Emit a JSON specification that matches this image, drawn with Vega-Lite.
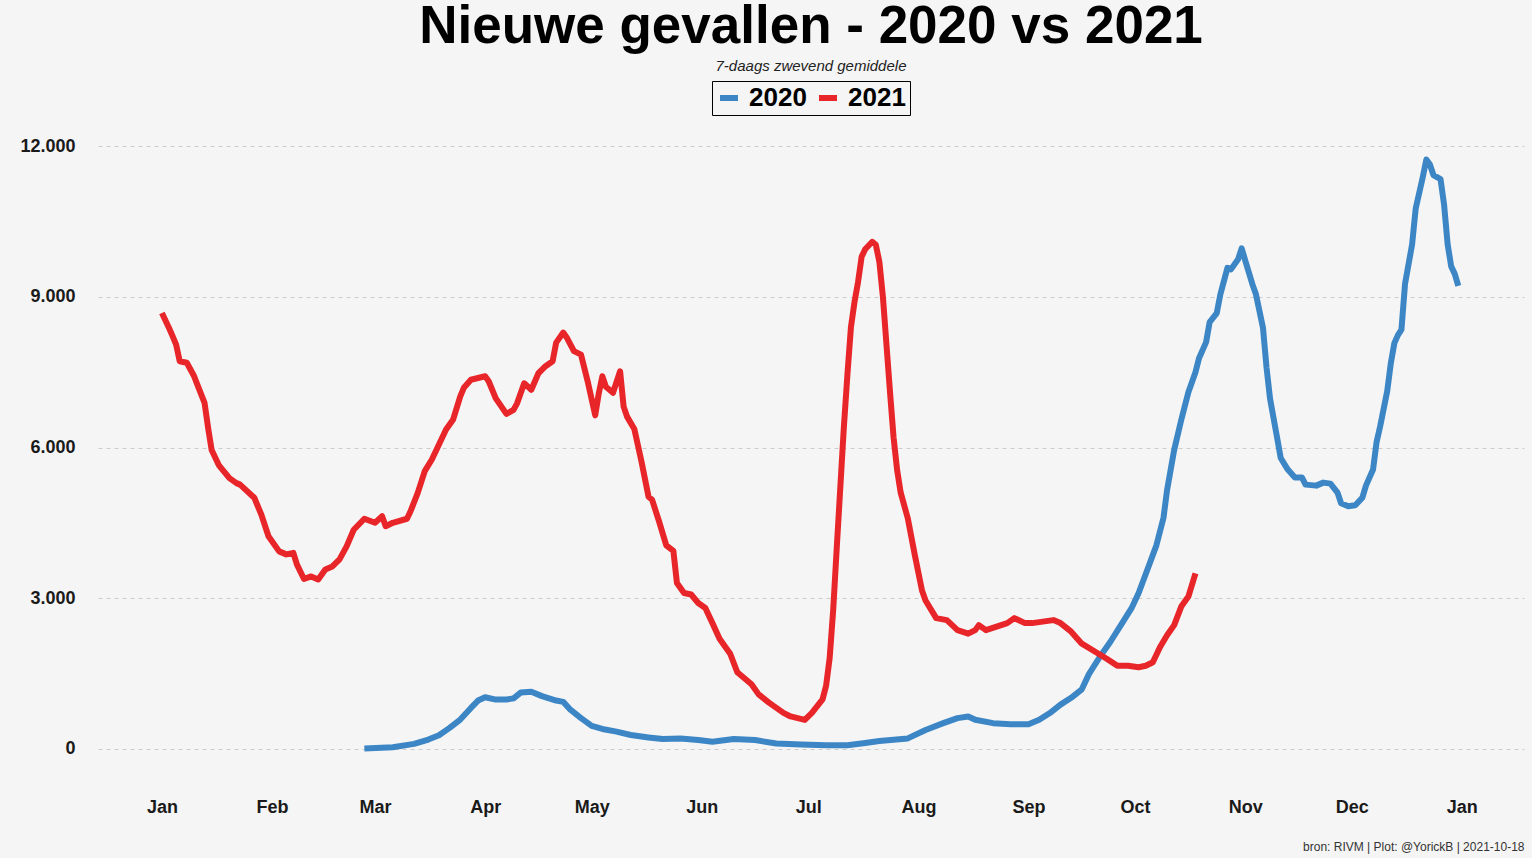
{
  "$schema": "https://vega.github.io/schema/vega-lite/v6.json",
  "autosize": {"type": "none"},
  "width": 1426,
  "height": 648,
  "padding": {"left": 98, "top": 130, "right": 8, "bottom": 80},
  "background": "#f5f5f5",
  "config": {
    "view": {"stroke": null},
    "font": "Liberation Sans",
    "legend": {"layout": {"top": {"anchor": "middle"}}}
  },
  "title": {
    "text": "Nieuwe gevallen - 2020 vs 2021",
    "subtitle": "7-daags zwevend gemiddele",
    "frame": "group",
    "anchor": "middle",
    "font": "Liberation Sans",
    "fontSize": 53,
    "fontWeight": "bold",
    "color": "#000000",
    "subtitleFont": "Liberation Sans",
    "subtitleFontSize": 15,
    "subtitleFontStyle": "italic",
    "subtitleColor": "#222222",
    "subtitlePadding": 5,
    "offset": 7
  },
  "data": {
    "format": {"parse": {"datum": "date"}},
    "values": [
      {"jaar": "2020", "datum": "2020-02-27", "gevallen": 0},
      {"jaar": "2020", "datum": "2020-03-06", "gevallen": 27},
      {"jaar": "2020", "datum": "2020-03-12", "gevallen": 93},
      {"jaar": "2020", "datum": "2020-03-16", "gevallen": 180},
      {"jaar": "2020", "datum": "2020-03-19", "gevallen": 266},
      {"jaar": "2020", "datum": "2020-03-22", "gevallen": 412},
      {"jaar": "2020", "datum": "2020-03-25", "gevallen": 578},
      {"jaar": "2020", "datum": "2020-03-28", "gevallen": 810},
      {"jaar": "2020", "datum": "2020-03-30", "gevallen": 956},
      {"jaar": "2020", "datum": "2020-04-01", "gevallen": 1023},
      {"jaar": "2020", "datum": "2020-04-04", "gevallen": 976},
      {"jaar": "2020", "datum": "2020-04-07", "gevallen": 976},
      {"jaar": "2020", "datum": "2020-04-09", "gevallen": 1000},
      {"jaar": "2020", "datum": "2020-04-11", "gevallen": 1115},
      {"jaar": "2020", "datum": "2020-04-14", "gevallen": 1133},
      {"jaar": "2020", "datum": "2020-04-17", "gevallen": 1045},
      {"jaar": "2020", "datum": "2020-04-21", "gevallen": 957},
      {"jaar": "2020", "datum": "2020-04-23", "gevallen": 930},
      {"jaar": "2020", "datum": "2020-04-25", "gevallen": 775},
      {"jaar": "2020", "datum": "2020-04-28", "gevallen": 607},
      {"jaar": "2020", "datum": "2020-05-01", "gevallen": 452},
      {"jaar": "2020", "datum": "2020-05-04", "gevallen": 391},
      {"jaar": "2020", "datum": "2020-05-08", "gevallen": 337},
      {"jaar": "2020", "datum": "2020-05-12", "gevallen": 270},
      {"jaar": "2020", "datum": "2020-05-17", "gevallen": 222},
      {"jaar": "2020", "datum": "2020-05-21", "gevallen": 189},
      {"jaar": "2020", "datum": "2020-05-26", "gevallen": 202},
      {"jaar": "2020", "datum": "2020-05-31", "gevallen": 169},
      {"jaar": "2020", "datum": "2020-06-04", "gevallen": 135},
      {"jaar": "2020", "datum": "2020-06-10", "gevallen": 189},
      {"jaar": "2020", "datum": "2020-06-16", "gevallen": 169},
      {"jaar": "2020", "datum": "2020-06-22", "gevallen": 101},
      {"jaar": "2020", "datum": "2020-06-29", "gevallen": 81},
      {"jaar": "2020", "datum": "2020-07-06", "gevallen": 67},
      {"jaar": "2020", "datum": "2020-07-12", "gevallen": 67},
      {"jaar": "2020", "datum": "2020-07-17", "gevallen": 110},
      {"jaar": "2020", "datum": "2020-07-21", "gevallen": 150},
      {"jaar": "2020", "datum": "2020-07-29", "gevallen": 202},
      {"jaar": "2020", "datum": "2020-08-03", "gevallen": 371},
      {"jaar": "2020", "datum": "2020-08-08", "gevallen": 506},
      {"jaar": "2020", "datum": "2020-08-12", "gevallen": 607},
      {"jaar": "2020", "datum": "2020-08-15", "gevallen": 640},
      {"jaar": "2020", "datum": "2020-08-17", "gevallen": 573},
      {"jaar": "2020", "datum": "2020-08-22", "gevallen": 506},
      {"jaar": "2020", "datum": "2020-08-27", "gevallen": 485},
      {"jaar": "2020", "datum": "2020-09-01", "gevallen": 485},
      {"jaar": "2020", "datum": "2020-09-04", "gevallen": 573},
      {"jaar": "2020", "datum": "2020-09-07", "gevallen": 708},
      {"jaar": "2020", "datum": "2020-09-10", "gevallen": 876},
      {"jaar": "2020", "datum": "2020-09-13", "gevallen": 1011},
      {"jaar": "2020", "datum": "2020-09-16", "gevallen": 1180},
      {"jaar": "2020", "datum": "2020-09-18", "gevallen": 1483},
      {"jaar": "2020", "datum": "2020-09-21", "gevallen": 1820},
      {"jaar": "2020", "datum": "2020-09-24", "gevallen": 2124},
      {"jaar": "2020", "datum": "2020-09-27", "gevallen": 2461},
      {"jaar": "2020", "datum": "2020-09-30", "gevallen": 2798},
      {"jaar": "2020", "datum": "2020-10-02", "gevallen": 3100},
      {"jaar": "2020", "datum": "2020-10-04", "gevallen": 3480},
      {"jaar": "2020", "datum": "2020-10-07", "gevallen": 4050},
      {"jaar": "2020", "datum": "2020-10-09", "gevallen": 4600},
      {"jaar": "2020", "datum": "2020-10-10", "gevallen": 5150},
      {"jaar": "2020", "datum": "2020-10-12", "gevallen": 5950},
      {"jaar": "2020", "datum": "2020-10-14", "gevallen": 6550},
      {"jaar": "2020", "datum": "2020-10-16", "gevallen": 7100},
      {"jaar": "2020", "datum": "2020-10-18", "gevallen": 7500},
      {"jaar": "2020", "datum": "2020-10-19", "gevallen": 7780},
      {"jaar": "2020", "datum": "2020-10-21", "gevallen": 8100},
      {"jaar": "2020", "datum": "2020-10-22", "gevallen": 8500},
      {"jaar": "2020", "datum": "2020-10-24", "gevallen": 8680},
      {"jaar": "2020", "datum": "2020-10-25", "gevallen": 9050},
      {"jaar": "2020", "datum": "2020-10-27", "gevallen": 9580},
      {"jaar": "2020", "datum": "2020-10-28", "gevallen": 9550},
      {"jaar": "2020", "datum": "2020-10-30", "gevallen": 9750},
      {"jaar": "2020", "datum": "2020-10-31", "gevallen": 9970},
      {"jaar": "2020", "datum": "2020-11-01", "gevallen": 9730},
      {"jaar": "2020", "datum": "2020-11-03", "gevallen": 9260},
      {"jaar": "2020", "datum": "2020-11-04", "gevallen": 9060},
      {"jaar": "2020", "datum": "2020-11-06", "gevallen": 8390},
      {"jaar": "2020", "datum": "2020-11-07", "gevallen": 7600},
      {"jaar": "2020", "datum": "2020-11-08", "gevallen": 6970},
      {"jaar": "2020", "datum": "2020-11-10", "gevallen": 6190},
      {"jaar": "2020", "datum": "2020-11-11", "gevallen": 5790},
      {"jaar": "2020", "datum": "2020-11-13", "gevallen": 5560},
      {"jaar": "2020", "datum": "2020-11-15", "gevallen": 5400},
      {"jaar": "2020", "datum": "2020-11-17", "gevallen": 5400},
      {"jaar": "2020", "datum": "2020-11-18", "gevallen": 5260},
      {"jaar": "2020", "datum": "2020-11-21", "gevallen": 5240},
      {"jaar": "2020", "datum": "2020-11-23", "gevallen": 5300},
      {"jaar": "2020", "datum": "2020-11-25", "gevallen": 5280},
      {"jaar": "2020", "datum": "2020-11-27", "gevallen": 5100},
      {"jaar": "2020", "datum": "2020-11-28", "gevallen": 4890},
      {"jaar": "2020", "datum": "2020-11-30", "gevallen": 4830},
      {"jaar": "2020", "datum": "2020-12-02", "gevallen": 4850},
      {"jaar": "2020", "datum": "2020-12-04", "gevallen": 5000},
      {"jaar": "2020", "datum": "2020-12-05", "gevallen": 5240},
      {"jaar": "2020", "datum": "2020-12-07", "gevallen": 5560},
      {"jaar": "2020", "datum": "2020-12-08", "gevallen": 6110},
      {"jaar": "2020", "datum": "2020-12-09", "gevallen": 6420},
      {"jaar": "2020", "datum": "2020-12-11", "gevallen": 7130},
      {"jaar": "2020", "datum": "2020-12-12", "gevallen": 7680},
      {"jaar": "2020", "datum": "2020-12-13", "gevallen": 8080},
      {"jaar": "2020", "datum": "2020-12-14", "gevallen": 8240},
      {"jaar": "2020", "datum": "2020-12-15", "gevallen": 8350},
      {"jaar": "2020", "datum": "2020-12-16", "gevallen": 9260},
      {"jaar": "2020", "datum": "2020-12-18", "gevallen": 10050},
      {"jaar": "2020", "datum": "2020-12-19", "gevallen": 10760},
      {"jaar": "2020", "datum": "2020-12-21", "gevallen": 11390},
      {"jaar": "2020", "datum": "2020-12-22", "gevallen": 11740},
      {"jaar": "2020", "datum": "2020-12-23", "gevallen": 11640},
      {"jaar": "2020", "datum": "2020-12-24", "gevallen": 11430},
      {"jaar": "2020", "datum": "2020-12-26", "gevallen": 11350},
      {"jaar": "2020", "datum": "2020-12-27", "gevallen": 10840},
      {"jaar": "2020", "datum": "2020-12-28", "gevallen": 10050},
      {"jaar": "2020", "datum": "2020-12-29", "gevallen": 9610},
      {"jaar": "2020", "datum": "2020-12-30", "gevallen": 9460},
      {"jaar": "2020", "datum": "2020-12-31", "gevallen": 9220},
      {"jaar": "2021", "datum": "2021-01-01", "gevallen": 8680},
      {"jaar": "2021", "datum": "2021-01-03", "gevallen": 8380},
      {"jaar": "2021", "datum": "2021-01-04", "gevallen": 8220},
      {"jaar": "2021", "datum": "2021-01-05", "gevallen": 8050},
      {"jaar": "2021", "datum": "2021-01-06", "gevallen": 7720},
      {"jaar": "2021", "datum": "2021-01-08", "gevallen": 7690},
      {"jaar": "2021", "datum": "2021-01-10", "gevallen": 7430},
      {"jaar": "2021", "datum": "2021-01-11", "gevallen": 7250},
      {"jaar": "2021", "datum": "2021-01-13", "gevallen": 6890},
      {"jaar": "2021", "datum": "2021-01-14", "gevallen": 6390},
      {"jaar": "2021", "datum": "2021-01-15", "gevallen": 5950},
      {"jaar": "2021", "datum": "2021-01-17", "gevallen": 5650},
      {"jaar": "2021", "datum": "2021-01-20", "gevallen": 5390},
      {"jaar": "2021", "datum": "2021-01-22", "gevallen": 5290},
      {"jaar": "2021", "datum": "2021-01-23", "gevallen": 5260},
      {"jaar": "2021", "datum": "2021-01-27", "gevallen": 5000},
      {"jaar": "2021", "datum": "2021-01-29", "gevallen": 4660},
      {"jaar": "2021", "datum": "2021-01-31", "gevallen": 4230},
      {"jaar": "2021", "datum": "2021-02-03", "gevallen": 3930},
      {"jaar": "2021", "datum": "2021-02-05", "gevallen": 3870},
      {"jaar": "2021", "datum": "2021-02-07", "gevallen": 3900},
      {"jaar": "2021", "datum": "2021-02-08", "gevallen": 3670},
      {"jaar": "2021", "datum": "2021-02-10", "gevallen": 3380},
      {"jaar": "2021", "datum": "2021-02-12", "gevallen": 3430},
      {"jaar": "2021", "datum": "2021-02-14", "gevallen": 3370},
      {"jaar": "2021", "datum": "2021-02-16", "gevallen": 3570},
      {"jaar": "2021", "datum": "2021-02-18", "gevallen": 3630},
      {"jaar": "2021", "datum": "2021-02-20", "gevallen": 3770},
      {"jaar": "2021", "datum": "2021-02-22", "gevallen": 4030},
      {"jaar": "2021", "datum": "2021-02-24", "gevallen": 4360},
      {"jaar": "2021", "datum": "2021-02-27", "gevallen": 4580},
      {"jaar": "2021", "datum": "2021-03-01", "gevallen": 4500},
      {"jaar": "2021", "datum": "2021-03-03", "gevallen": 4630},
      {"jaar": "2021", "datum": "2021-03-04", "gevallen": 4430},
      {"jaar": "2021", "datum": "2021-03-06", "gevallen": 4500},
      {"jaar": "2021", "datum": "2021-03-10", "gevallen": 4580},
      {"jaar": "2021", "datum": "2021-03-11", "gevallen": 4730},
      {"jaar": "2021", "datum": "2021-03-13", "gevallen": 5090},
      {"jaar": "2021", "datum": "2021-03-15", "gevallen": 5530},
      {"jaar": "2021", "datum": "2021-03-17", "gevallen": 5760},
      {"jaar": "2021", "datum": "2021-03-19", "gevallen": 6060},
      {"jaar": "2021", "datum": "2021-03-21", "gevallen": 6360},
      {"jaar": "2021", "datum": "2021-03-23", "gevallen": 6560},
      {"jaar": "2021", "datum": "2021-03-25", "gevallen": 7020},
      {"jaar": "2021", "datum": "2021-03-26", "gevallen": 7190},
      {"jaar": "2021", "datum": "2021-03-28", "gevallen": 7350},
      {"jaar": "2021", "datum": "2021-04-01", "gevallen": 7420},
      {"jaar": "2021", "datum": "2021-04-02", "gevallen": 7320},
      {"jaar": "2021", "datum": "2021-04-04", "gevallen": 6980},
      {"jaar": "2021", "datum": "2021-04-07", "gevallen": 6670},
      {"jaar": "2021", "datum": "2021-04-09", "gevallen": 6750},
      {"jaar": "2021", "datum": "2021-04-10", "gevallen": 6880},
      {"jaar": "2021", "datum": "2021-04-12", "gevallen": 7280},
      {"jaar": "2021", "datum": "2021-04-14", "gevallen": 7150},
      {"jaar": "2021", "datum": "2021-04-16", "gevallen": 7480},
      {"jaar": "2021", "datum": "2021-04-18", "gevallen": 7620},
      {"jaar": "2021", "datum": "2021-04-20", "gevallen": 7720},
      {"jaar": "2021", "datum": "2021-04-21", "gevallen": 8090},
      {"jaar": "2021", "datum": "2021-04-23", "gevallen": 8290},
      {"jaar": "2021", "datum": "2021-04-24", "gevallen": 8190},
      {"jaar": "2021", "datum": "2021-04-26", "gevallen": 7920},
      {"jaar": "2021", "datum": "2021-04-28", "gevallen": 7850},
      {"jaar": "2021", "datum": "2021-04-30", "gevallen": 7280},
      {"jaar": "2021", "datum": "2021-05-02", "gevallen": 6640},
      {"jaar": "2021", "datum": "2021-05-03", "gevallen": 7080},
      {"jaar": "2021", "datum": "2021-05-04", "gevallen": 7420},
      {"jaar": "2021", "datum": "2021-05-05", "gevallen": 7210},
      {"jaar": "2021", "datum": "2021-05-07", "gevallen": 7090},
      {"jaar": "2021", "datum": "2021-05-09", "gevallen": 7520},
      {"jaar": "2021", "datum": "2021-05-10", "gevallen": 6810},
      {"jaar": "2021", "datum": "2021-05-11", "gevallen": 6610},
      {"jaar": "2021", "datum": "2021-05-13", "gevallen": 6370},
      {"jaar": "2021", "datum": "2021-05-15", "gevallen": 5730},
      {"jaar": "2021", "datum": "2021-05-17", "gevallen": 5020},
      {"jaar": "2021", "datum": "2021-05-18", "gevallen": 4960},
      {"jaar": "2021", "datum": "2021-05-20", "gevallen": 4520},
      {"jaar": "2021", "datum": "2021-05-22", "gevallen": 4050},
      {"jaar": "2021", "datum": "2021-05-24", "gevallen": 3940},
      {"jaar": "2021", "datum": "2021-05-25", "gevallen": 3300},
      {"jaar": "2021", "datum": "2021-05-27", "gevallen": 3100},
      {"jaar": "2021", "datum": "2021-05-29", "gevallen": 3070},
      {"jaar": "2021", "datum": "2021-05-31", "gevallen": 2900},
      {"jaar": "2021", "datum": "2021-06-02", "gevallen": 2800},
      {"jaar": "2021", "datum": "2021-06-04", "gevallen": 2500},
      {"jaar": "2021", "datum": "2021-06-06", "gevallen": 2190},
      {"jaar": "2021", "datum": "2021-06-09", "gevallen": 1890},
      {"jaar": "2021", "datum": "2021-06-11", "gevallen": 1520},
      {"jaar": "2021", "datum": "2021-06-15", "gevallen": 1280},
      {"jaar": "2021", "datum": "2021-06-17", "gevallen": 1080},
      {"jaar": "2021", "datum": "2021-06-20", "gevallen": 910},
      {"jaar": "2021", "datum": "2021-06-24", "gevallen": 710},
      {"jaar": "2021", "datum": "2021-06-26", "gevallen": 640},
      {"jaar": "2021", "datum": "2021-06-30", "gevallen": 570},
      {"jaar": "2021", "datum": "2021-07-02", "gevallen": 710},
      {"jaar": "2021", "datum": "2021-07-05", "gevallen": 980},
      {"jaar": "2021", "datum": "2021-07-06", "gevallen": 1250},
      {"jaar": "2021", "datum": "2021-07-07", "gevallen": 1800},
      {"jaar": "2021", "datum": "2021-07-08", "gevallen": 2760},
      {"jaar": "2021", "datum": "2021-07-09", "gevallen": 4000},
      {"jaar": "2021", "datum": "2021-07-10", "gevallen": 5200},
      {"jaar": "2021", "datum": "2021-07-11", "gevallen": 6400},
      {"jaar": "2021", "datum": "2021-07-12", "gevallen": 7450},
      {"jaar": "2021", "datum": "2021-07-13", "gevallen": 8400},
      {"jaar": "2021", "datum": "2021-07-14", "gevallen": 8900},
      {"jaar": "2021", "datum": "2021-07-15", "gevallen": 9300},
      {"jaar": "2021", "datum": "2021-07-16", "gevallen": 9800},
      {"jaar": "2021", "datum": "2021-07-17", "gevallen": 9950},
      {"jaar": "2021", "datum": "2021-07-19", "gevallen": 10100},
      {"jaar": "2021", "datum": "2021-07-20", "gevallen": 10040},
      {"jaar": "2021", "datum": "2021-07-21", "gevallen": 9700},
      {"jaar": "2021", "datum": "2021-07-22", "gevallen": 9000},
      {"jaar": "2021", "datum": "2021-07-23", "gevallen": 8050},
      {"jaar": "2021", "datum": "2021-07-24", "gevallen": 7100},
      {"jaar": "2021", "datum": "2021-07-25", "gevallen": 6200},
      {"jaar": "2021", "datum": "2021-07-26", "gevallen": 5550},
      {"jaar": "2021", "datum": "2021-07-27", "gevallen": 5100},
      {"jaar": "2021", "datum": "2021-07-29", "gevallen": 4590},
      {"jaar": "2021", "datum": "2021-07-31", "gevallen": 3850},
      {"jaar": "2021", "datum": "2021-08-02", "gevallen": 3150},
      {"jaar": "2021", "datum": "2021-08-03", "gevallen": 2950},
      {"jaar": "2021", "datum": "2021-08-06", "gevallen": 2600},
      {"jaar": "2021", "datum": "2021-08-09", "gevallen": 2560},
      {"jaar": "2021", "datum": "2021-08-12", "gevallen": 2360},
      {"jaar": "2021", "datum": "2021-08-15", "gevallen": 2290},
      {"jaar": "2021", "datum": "2021-08-17", "gevallen": 2360},
      {"jaar": "2021", "datum": "2021-08-18", "gevallen": 2460},
      {"jaar": "2021", "datum": "2021-08-20", "gevallen": 2360},
      {"jaar": "2021", "datum": "2021-08-23", "gevallen": 2430},
      {"jaar": "2021", "datum": "2021-08-26", "gevallen": 2500},
      {"jaar": "2021", "datum": "2021-08-28", "gevallen": 2600},
      {"jaar": "2021", "datum": "2021-08-31", "gevallen": 2500},
      {"jaar": "2021", "datum": "2021-09-02", "gevallen": 2500},
      {"jaar": "2021", "datum": "2021-09-05", "gevallen": 2530},
      {"jaar": "2021", "datum": "2021-09-08", "gevallen": 2560},
      {"jaar": "2021", "datum": "2021-09-10", "gevallen": 2500},
      {"jaar": "2021", "datum": "2021-09-13", "gevallen": 2330},
      {"jaar": "2021", "datum": "2021-09-16", "gevallen": 2090},
      {"jaar": "2021", "datum": "2021-09-20", "gevallen": 1920},
      {"jaar": "2021", "datum": "2021-09-23", "gevallen": 1790},
      {"jaar": "2021", "datum": "2021-09-26", "gevallen": 1650},
      {"jaar": "2021", "datum": "2021-09-29", "gevallen": 1650},
      {"jaar": "2021", "datum": "2021-10-02", "gevallen": 1620},
      {"jaar": "2021", "datum": "2021-10-04", "gevallen": 1650},
      {"jaar": "2021", "datum": "2021-10-06", "gevallen": 1720},
      {"jaar": "2021", "datum": "2021-10-08", "gevallen": 2020},
      {"jaar": "2021", "datum": "2021-10-10", "gevallen": 2260},
      {"jaar": "2021", "datum": "2021-10-12", "gevallen": 2460},
      {"jaar": "2021", "datum": "2021-10-14", "gevallen": 2830},
      {"jaar": "2021", "datum": "2021-10-16", "gevallen": 3030},
      {"jaar": "2021", "datum": "2021-10-18", "gevallen": 3490}
    ]
  },
  "transform": [
    {"timeUnit": "utcmonthdate", "field": "datum", "as": "dag"}
  ],
  "mark": {"type": "line", "strokeWidth": 6, "strokeJoin": "round", "strokeCap": "butt"},
  "encoding": {
    "x": {
      "field": "dag",
      "type": "temporal",
      "scale": {
        "type": "utc",
        "domain": [
          {"year": 2011, "month": 12, "date": 14, "utc": true},
          {"year": 2013, "month": 1, "date": 18, "hours": 12, "utc": true}
        ]
      },
      "axis": {
        "values": [
          {"year": 2012, "month": 1, "date": 1, "utc": true},
          {"year": 2012, "month": 2, "date": 1, "utc": true},
          {"year": 2012, "month": 3, "date": 1, "utc": true},
          {"year": 2012, "month": 4, "date": 1, "utc": true},
          {"year": 2012, "month": 5, "date": 1, "utc": true},
          {"year": 2012, "month": 6, "date": 1, "utc": true},
          {"year": 2012, "month": 7, "date": 1, "utc": true},
          {"year": 2012, "month": 8, "date": 1, "utc": true},
          {"year": 2012, "month": 9, "date": 1, "utc": true},
          {"year": 2012, "month": 10, "date": 1, "utc": true},
          {"year": 2012, "month": 11, "date": 1, "utc": true},
          {"year": 2012, "month": 12, "date": 1, "utc": true},
          {"year": 2013, "month": 1, "date": 1, "utc": true}
        ],
        "labelExpr": "utcFormat(datum.value, '%b')",
        "grid": false,
        "domain": false,
        "ticks": false,
        "tickSize": 0,
        "labelPadding": 20,
        "labelFont": "Liberation Sans",
        "labelFontSize": 18,
        "labelFontWeight": "bold",
        "labelColor": "#1a1a1a",
        "labelFlush": false,
        "title": "bron: RIVM  | Plot: @YorickB |  2021-10-18",
        "titleAnchor": "end",
        "titleAlign": "right",
        "titleFont": "Liberation Sans",
        "titleFontSize": 12,
        "titleFontWeight": "normal",
        "titleColor": "#333333",
        "titlePadding": 25
      }
    },
    "y": {
      "field": "gevallen",
      "type": "quantitative",
      "scale": {"domain": [-587, 12328], "nice": false, "zero": false},
      "axis": {
        "values": [0, 3000, 6000, 9000, 12000],
        "labelExpr": "replace(format(datum.value, ',d'), ',', '.')",
        "grid": true,
        "gridDash": [4, 4],
        "gridColor": "#cccccc",
        "gridWidth": 1,
        "domain": false,
        "ticks": false,
        "tickSize": 0,
        "labelPadding": 23,
        "labelFont": "Liberation Sans",
        "labelFontSize": 18,
        "labelFontWeight": "bold",
        "labelColor": "#1a1a1a",
        "title": null
      }
    },
    "color": {
      "field": "jaar",
      "type": "nominal",
      "scale": {"domain": ["2020", "2021"], "range": ["#3c86c6", "#e8262a"]},
      "legend": {
        "title": null,
        "orient": "top",
        "direction": "horizontal",
        "symbolType": "stroke",
        "symbolSize": 324,
        "symbolStrokeWidth": 6,
        "labelFont": "Liberation Sans",
        "labelFontSize": 26,
        "labelFontWeight": "bold",
        "labelColor": "#000000",
        "labelOffset": 7,
        "columnPadding": 0,
        "padding": 4,
        "strokeColor": "#000000",
        "offset": 15
      }
    }
  }
}
